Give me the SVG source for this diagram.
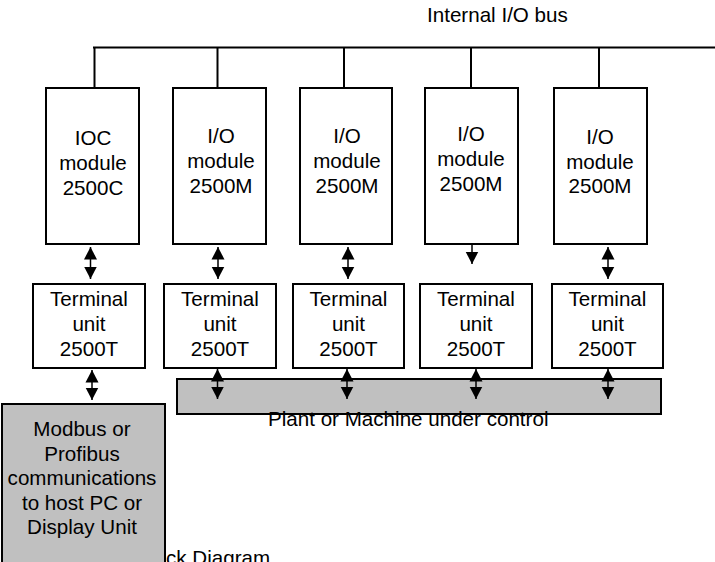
<svg xmlns="http://www.w3.org/2000/svg" width="715" height="562" viewBox="0 0 715 562">
<style>
text{font-family:"Liberation Sans",Arial,sans-serif;font-size:20.6px;fill:#000}
.c{text-anchor:middle}
.box{fill:#fff;stroke:#000;stroke-width:2}
.gray{fill:#c0c0c0;stroke:#000;stroke-width:2}
.ln{stroke:#000;stroke-width:2;fill:none}
.arr{stroke:#000;stroke-width:1.5;marker-start:url(#ah);marker-end:url(#ah)}
</style>
<defs>
<marker id="ah" markerUnits="userSpaceOnUse" markerWidth="14" markerHeight="14" refX="12.5" refY="7" orient="auto-start-reverse">
<path d="M0,0.5 L12.5,7 L0,13.5 z" fill="#000"/>
</marker>
</defs>
<text x="166" y="565">ck Diagram</text>
<text x="427" y="22">Internal I/O bus</text>
<g id="bus">
<line class="ln" x1="93" y1="47.5" x2="715" y2="47.5"/>
</g>
<g id="connectors">
<line class="ln" x1="94.5" y1="47" x2="94.5" y2="88"/>
<line class="ln" x1="217.5" y1="47" x2="217.5" y2="88"/>
<line class="ln" x1="344" y1="47" x2="344" y2="88"/>
<line class="ln" x1="471" y1="47" x2="471" y2="88"/>
<line class="ln" x1="599" y1="47" x2="599" y2="88"/>
<line class="arr" x1="90.5" y1="247" x2="90.5" y2="279"/>
<line class="arr" x1="218" y1="247" x2="218" y2="279"/>
<line class="arr" x1="348" y1="247" x2="348" y2="279"/>
<line class="arr" x1="472" y1="230" x2="472" y2="264"/>
<line class="arr" x1="608" y1="247" x2="608" y2="279"/>
</g>
<g id="ioc">
<rect class="box" x="46" y="88" width="93" height="156"/>
<text class="c" x="93" y="145">IOC</text>
<text class="c" x="93" y="170">module</text>
<text class="c" x="93" y="195">2500C</text>
</g>
<g id="io1">
<rect class="box" x="173" y="88" width="93" height="156"/>
<text class="c" x="221" y="143">I/O</text>
<text class="c" x="221" y="168">module</text>
<text class="c" x="221" y="193">2500M</text>
</g>
<g id="io2">
<rect class="box" x="300" y="88" width="92" height="156"/>
<text class="c" x="347" y="143">I/O</text>
<text class="c" x="347" y="168">module</text>
<text class="c" x="347" y="193">2500M</text>
</g>
<g id="io3">
<rect class="box" x="425" y="88" width="93" height="156"/>
<text class="c" x="471" y="141">I/O</text>
<text class="c" x="471" y="166">module</text>
<text class="c" x="471" y="191">2500M</text>
</g>
<g id="io4">
<rect class="box" x="554" y="88" width="93" height="156"/>
<text class="c" x="600" y="144">I/O</text>
<text class="c" x="600" y="169">module</text>
<text class="c" x="600" y="193">2500M</text>
</g>
<g id="t1">
<rect class="box" x="33" y="284" width="112" height="84"/>
<text class="c" x="89" y="306">Terminal</text>
<text class="c" x="89" y="331">unit</text>
<text class="c" x="89" y="356">2500T</text>
</g>
<g id="t2">
<rect class="box" x="164" y="284" width="112" height="84"/>
<text class="c" x="220" y="306">Terminal</text>
<text class="c" x="220" y="331">unit</text>
<text class="c" x="220" y="356">2500T</text>
</g>
<g id="t3">
<rect class="box" x="293" y="284" width="111" height="84"/>
<text class="c" x="348.5" y="306">Terminal</text>
<text class="c" x="348.5" y="331">unit</text>
<text class="c" x="348.5" y="356">2500T</text>
</g>
<g id="t4">
<rect class="box" x="420" y="284" width="112" height="84"/>
<text class="c" x="476" y="306">Terminal</text>
<text class="c" x="476" y="331">unit</text>
<text class="c" x="476" y="356">2500T</text>
</g>
<g id="t5">
<rect class="box" x="552" y="284" width="111" height="84"/>
<text class="c" x="607.5" y="306">Terminal</text>
<text class="c" x="607.5" y="331">unit</text>
<text class="c" x="607.5" y="356">2500T</text>
</g>
<g id="plant">
<rect class="gray" x="177" y="379" width="484" height="35"/>
<text x="268" y="426">Plant or Machine under control</text>
</g>
<g id="modbus">
<rect class="gray" x="2" y="404" width="163" height="170"/>
<text class="c" x="82" y="436">Modbus or</text>
<text class="c" x="82" y="460.5">Profibus</text>
<text class="c" x="82" y="485">communications</text>
<text class="c" x="82" y="509.5">to host PC or</text>
<text class="c" x="82" y="534">Display Unit</text>
</g>
<g id="connectors2">
<line class="arr" x1="92" y1="370" x2="92" y2="400"/>
<line class="arr" x1="217.5" y1="369" x2="217.5" y2="399"/>
<line class="arr" x1="347" y1="369" x2="347" y2="399"/>
<line class="arr" x1="476" y1="369" x2="476" y2="399"/>
<line class="arr" x1="608" y1="369" x2="608" y2="399"/>
</g>
</svg>
